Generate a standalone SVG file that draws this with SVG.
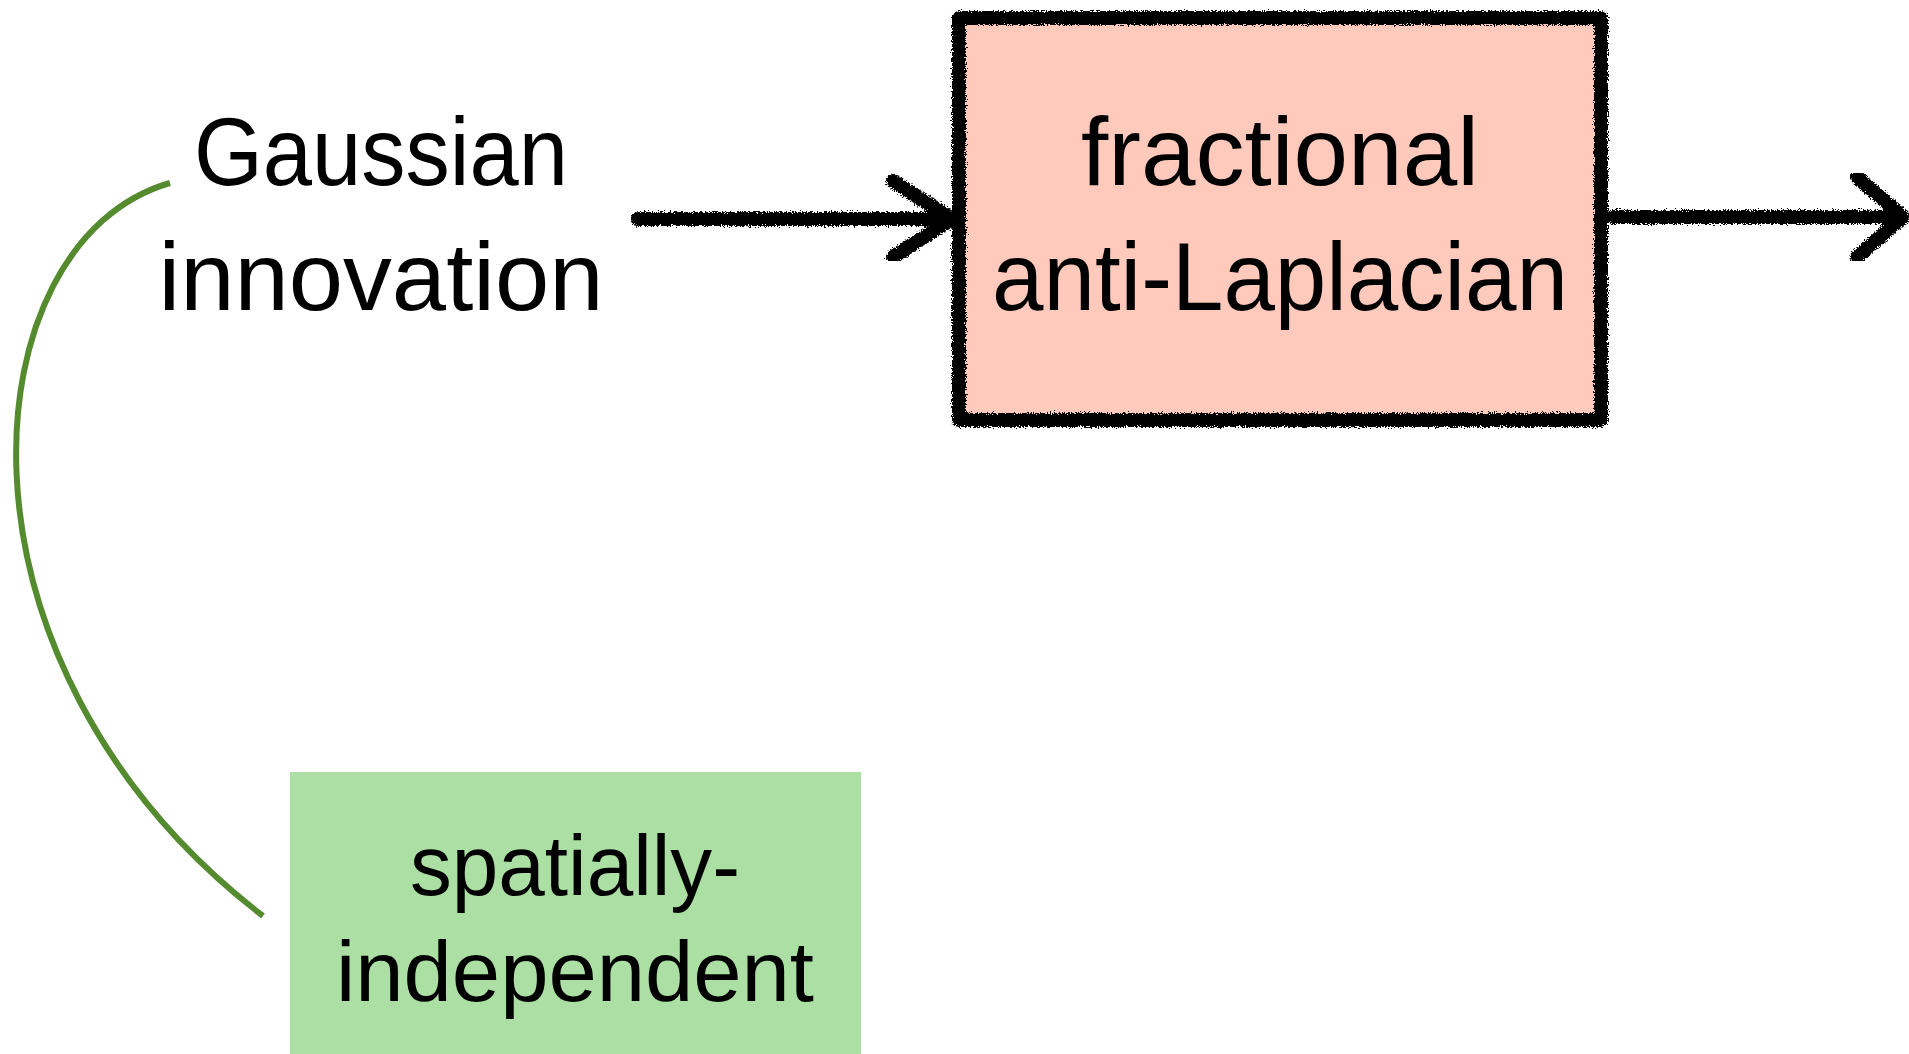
<svg xmlns="http://www.w3.org/2000/svg" width="1909" height="1054" viewBox="0 0 1909 1054">
<defs>
<filter id="rough" x="-5%" y="-5%" width="110%" height="110%">
<feTurbulence type="fractalNoise" baseFrequency="0.7" numOctaves="2" seed="3" result="n"/>
<feDisplacementMap in="SourceGraphic" in2="n" scale="7" xChannelSelector="R" yChannelSelector="G"/>
</filter>
<style>
.lbl{font-family:"Liberation Sans",Arial,sans-serif;font-size:96px;fill:#000;text-anchor:middle}
.small{font-size:86px}
.sketch{fill:none;stroke:#000;stroke-width:14;stroke-linecap:round;stroke-linejoin:round}
.green{fill:none;stroke:#558B2F;stroke-width:6}
</style>
</defs>
<rect width="1909" height="1054" fill="#fff"/>
<g id="connectors">
<g filter="url(#rough)">
<path class="sketch" d="M638,219 L952,219 M893,181 L952,219 L893,257"/>
<path class="sketch" d="M1613,217 L1903,217 M1857,177 L1903,217 L1857,257"/>
</g>
<path class="green" d="M170,183 C-30,240 -70,660 263,916"/>
</g>
<g id="gaussian">
<text class="lbl" x="381" y="185" textLength="374" lengthAdjust="spacingAndGlyphs">Gaussian</text>
<text class="lbl" x="381" y="310" textLength="445" lengthAdjust="spacingAndGlyphs">innovation</text>
</g>
<g id="laplacian">
<rect x="959" y="18" width="642" height="402" fill="#FFCABC"/>
<rect x="959" y="18" width="642" height="402" class="sketch" filter="url(#rough)"/>
<text class="lbl" x="1280" y="185" textLength="398" lengthAdjust="spacingAndGlyphs">fractional</text>
<text class="lbl" x="1280" y="310" textLength="576" lengthAdjust="spacingAndGlyphs">anti-Laplacian</text>
</g>
<g id="spatial">
<rect x="290" y="772" width="571" height="282" fill="#ACDFA3"/>
<text class="lbl small" x="575" y="895" textLength="330" lengthAdjust="spacingAndGlyphs">spatially-</text>
<text class="lbl small" x="575" y="1001" textLength="478" lengthAdjust="spacingAndGlyphs">independent</text>
</g>
</svg>
